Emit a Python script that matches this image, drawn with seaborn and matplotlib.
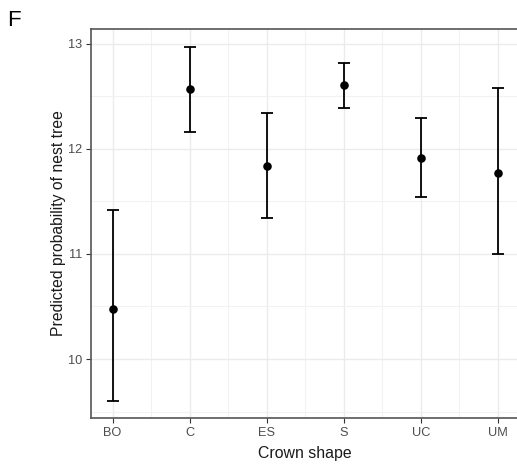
import matplotlib
matplotlib.use("Agg")
import matplotlib.pyplot as plt
import seaborn as sns
import numpy as np
import pandas as pd
from matplotlib.ticker import FixedLocator

categories = ["BO", "C", "ES", "S", "UC", "UM"]
estimate = [10.48, 12.57, 11.84, 12.61, 11.91, 11.77]
lower = [9.60, 12.16, 11.34, 12.39, 11.54, 11.00]
upper = [11.42, 12.97, 12.34, 12.82, 12.29, 12.58]
yticks = [10, 11, 12, 13]

sns.set_theme(style="white")
plt.rcParams['font.family'] = ['Liberation Sans', 'DejaVu Sans']

df = pd.DataFrame({"shape": categories, "est": estimate, "lo": lower, "hi": upper})

fig = plt.figure(figsize=(5.17, 4.70), dpi=100)
ax = fig.add_axes([0.176, 0.111, 0.829, 0.827])

xpos = np.arange(len(categories))
ax.errorbar(xpos, df["est"], yerr=[df["est"] - df["lo"], df["hi"] - df["est"]],
            fmt="none", ecolor="black", elinewidth=1.3, capsize=4.5, capthick=1.3, zorder=3)
sns.scatterplot(data=df, x=xpos, y="est", color="black", s=38, edgecolor="black",
                linewidth=0, zorder=4, ax=ax, legend=False)

ax.set_xlim(-0.28, 5.28)
ax.set_ylim(9.44, 13.14)
ax.set_xticks(xpos)
ax.set_xticklabels(categories)
ax.set_yticks(yticks)
ax.set_yticklabels([str(t) for t in yticks])
ax.xaxis.set_minor_locator(FixedLocator(xpos[:-1] + 0.5))
ax.yaxis.set_minor_locator(FixedLocator([9.5, 10.5, 11.5, 12.5]))

ax.grid(True, which="major", color="#ebebeb", linewidth=1.0, zorder=0)
ax.grid(True, which="minor", color="#f2f2f2", linewidth=0.8, zorder=0)
ax.set_axisbelow(True)

for s in ["left", "bottom", "top", "right"]:
    ax.spines[s].set_color("#555555")
    ax.spines[s].set_linewidth(1.2)

ax.tick_params(axis="both", which="major", length=3.5, width=0.8, color="#333333",
               labelsize=9.2, labelcolor="#4d4d4d", pad=3, bottom=True, left=True)
ax.tick_params(axis="both", which="minor", length=0)

ax.set_xlabel("Crown shape", fontsize=11.4, color="#1a1a1a", labelpad=5)
ax.set_ylabel("Predicted probability of nest tree", fontsize=11.3, color="#1a1a1a", labelpad=1.5)

fig.text(0.014, 0.945, "F", fontsize=16, color="black", ha="left", va="baseline")

fig.savefig("out.png", dpi=100)
